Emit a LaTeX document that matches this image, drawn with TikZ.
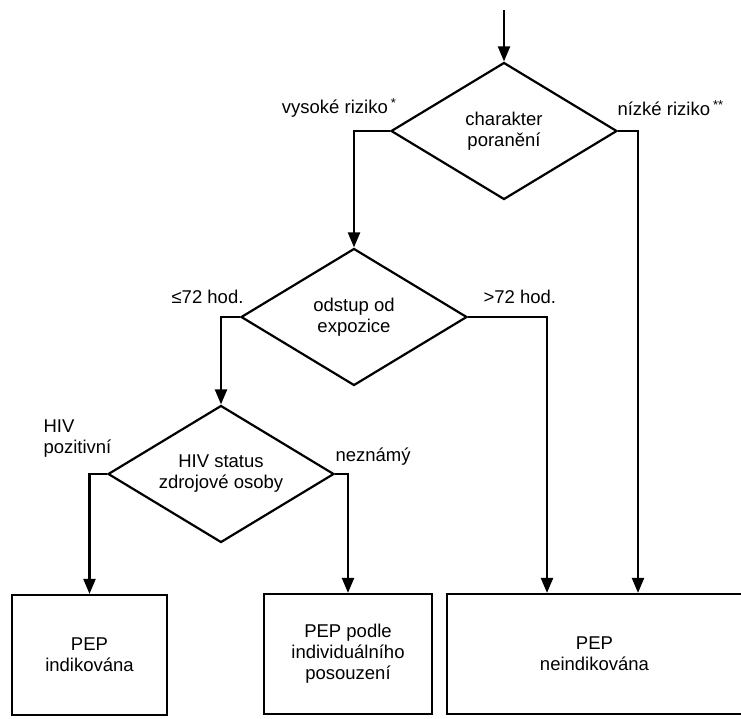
\documentclass[tikz,border=0pt]{standalone}
\usepackage{fontspec}
\setmainfont{Liberation Sans}
\usetikzlibrary{shapes.geometric,arrows.meta}

\begin{document}
\begin{tikzpicture}[x=1pt, y=-1pt,
    font=\fontsize{18.5}{21}\selectfont,
    rozhod/.style={diamond, draw, line width=2.2pt, aspect=1.65, inner sep=0pt,
        minimum width=226pt, minimum height=137pt, align=center},
    vysledek/.style={rectangle, draw, line width=2.2pt, minimum height=120pt, align=center},
    sipka/.style={line width=2.2pt, -{Triangle[length=15pt, width=12pt]}}]
    % okraje obrazku
    \clip (0,0) rectangle (741,718);

    % rozhodovaci uzly
    \node[rozhod] (charakter) at (504,131) {charakter\\poranění};
    \node[rozhod] (odstup) at (354,317) {odstup od\\expozice};
    \node[rozhod] (hiv) at (221,474) {HIV status\\zdrojové osoby};

    % vysledky
    \node[vysledek, minimum width=155pt] (indik) at (89.5,655) {PEP\\indikována};
    \node[vysledek, minimum width=168pt] (posouz) at (348,654) {PEP podle\\individuálního\\posouzení};
    \node[vysledek, minimum width=295pt] (neindik) at (594.5,654) {PEP\\neindikována};

    % vstup
    \coordinate (vstup) at (504,10);
    \draw[sipka] (vstup) -- (charakter.north);

    % vetve
    \draw[sipka] (charakter.west) -| (odstup.north);
    \draw[sipka] (charakter.east) -| (neindik.north -| 638,0);
    \draw[sipka] (odstup.west) -| (hiv.north);
    \draw[sipka] (odstup.east) -| (neindik.north -| 547,0);
    \draw[sipka] (hiv.west) -| (indik.north);
    \draw[sipka] (hiv.east) -| (posouz.north);

    % popisky
    \node[anchor=east] (vysoke) at (400,108) {vysoké riziko\,\textsuperscript{*}};
    \node[anchor=west] (nizke) at (614,108) {nízké riziko\,\textsuperscript{**}};
    \node[anchor=east] (kratke) at (247,297) {≤72 hod.};
    \node[anchor=west] (dlouhe) at (480,297) {>72 hod.};
    \node[anchor=west, align=left] (pozit) at (40,439) {HIV\\pozitivní};
    \node[anchor=west] (neznamy) at (332,457) {neznámý};
\end{tikzpicture}
\end{document}
